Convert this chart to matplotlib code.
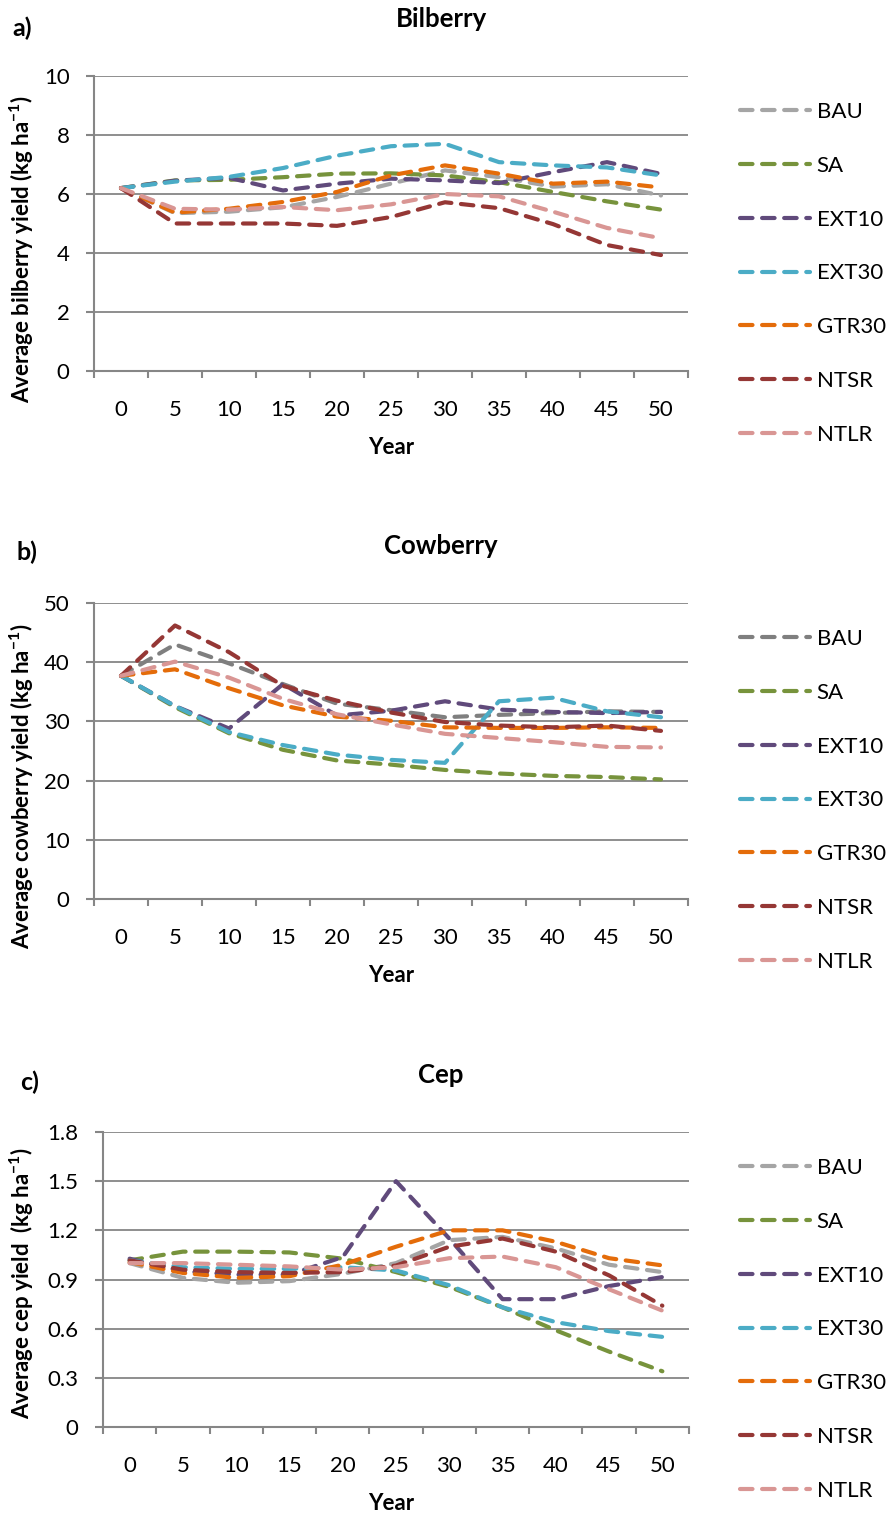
import numpy as np
import matplotlib
matplotlib.use('Agg')
import matplotlib.pyplot as plt
from matplotlib.ticker import FuncFormatter

plt.rcParams['font.family'] = 'Lato'
plt.rcParams['mathtext.fontset'] = 'custom'
plt.rcParams['mathtext.rm'] = 'Lato'
plt.rcParams['mathtext.bf'] = 'Lato:bold'

years = [0, 5, 10, 15, 20, 25, 30, 35, 40, 45, 50]
scenarios = ['BAU', 'SA', 'EXT10', 'EXT30', 'GTR30', 'NTSR', 'NTLR']

# a) bilberry, kg/ha
bil_bau = [6.2, 5.35, 5.4, 5.55, 5.9, 6.35, 6.8, 6.57, 6.25, 6.33, 5.95]
bil_sa = [6.2, 6.46, 6.48, 6.57, 6.69, 6.7, 6.63, 6.4, 6.07, 5.75, 5.47]
bil_ext10 = [6.2, 6.45, 6.55, 6.12, 6.35, 6.52, 6.46, 6.37, 6.74, 7.08, 6.68]
bil_ext30 = [6.2, 6.42, 6.58, 6.88, 7.3, 7.62, 7.7, 7.08, 6.97, 6.9, 6.63]
bil_gtr30 = [6.2, 5.37, 5.5, 5.73, 6.07, 6.63, 6.97, 6.69, 6.35, 6.42, 6.22]
bil_ntsr = [6.2, 5.0, 5.0, 5.0, 4.92, 5.22, 5.72, 5.52, 4.98, 4.27, 3.93]
bil_ntlr = [6.2, 5.5, 5.47, 5.56, 5.45, 5.65, 6.0, 5.92, 5.4, 4.85, 4.5]

# b) cowberry
cow_bau = [37.7, 43.0, 39.8, 36.3, 33.0, 31.9, 30.7, 31.1, 31.4, 31.7, 31.6]
cow_sa = [37.7, 32.4, 28.0, 25.2, 23.4, 22.7, 21.8, 21.2, 20.8, 20.6, 20.2]
cow_ext10 = [37.7, 32.6, 28.8, 36.3, 31.0, 31.8, 33.4, 32.0, 31.6, 31.4, 31.6]
cow_ext30 = [37.7, 32.6, 28.2, 26.0, 24.4, 23.5, 23.0, 33.4, 34.0, 31.7, 30.7]
cow_gtr30 = [37.7, 38.8, 35.6, 32.7, 30.8, 30.1, 29.0, 28.9, 28.9, 29.0, 28.9]
cow_ntsr = [37.7, 46.2, 41.7, 36.0, 33.5, 31.5, 29.9, 29.3, 29.0, 29.3, 28.4]
cow_ntlr = [37.7, 40.1, 37.4, 33.8, 31.2, 29.5, 27.9, 27.2, 26.5, 25.7, 25.6]

# c) cep
cep_bau = [1.0, 0.91, 0.88, 0.89, 0.935, 1.0, 1.14, 1.16, 1.09, 0.99, 0.945]
cep_sa = [1.017, 1.07, 1.07, 1.065, 1.027, 0.945, 0.855, 0.73, 0.59, 0.46, 0.34]
cep_ext10 = [1.027, 0.95, 0.93, 0.93, 1.037, 1.5, 1.15, 0.78, 0.78, 0.86, 0.915]
cep_ext30 = [1.017, 0.975, 0.965, 0.965, 0.975, 0.955, 0.865, 0.73, 0.64, 0.585, 0.55]
cep_gtr30 = [1.006, 0.94, 0.91, 0.92, 0.99, 1.1, 1.2, 1.2, 1.13, 1.03, 0.986]
cep_ntsr = [1.017, 0.96, 0.945, 0.94, 0.945, 0.985, 1.1, 1.15, 1.07, 0.925, 0.74]
cep_ntlr = [1.0, 1.0, 0.99, 0.98, 0.96, 0.975, 1.03, 1.04, 0.975, 0.84, 0.71]

colors = ['#A5A5A5', '#77933C', '#604A7B', '#4BACC6', '#E46C0A', '#953735', '#D99694']
colors_b = ['#7F7F7F'] + colors[1:]
axcol = '#868686'

W, H = 886, 1517
fig = plt.figure(figsize=(W / 100, H / 100), dpi=100)


def panel(box, series, cols, ymax, ystep, letter, title, ylabel, ylab_y):
    left, top, right, bottom = box
    ax = fig.add_axes([left / W, 1 - bottom / H, (right - left) / W, (bottom - top) / H])
    x = np.arange(len(years))
    for vals, name, c in zip(series, scenarios, cols):
        ax.plot(x, vals, color=c, lw=3.0, linestyle=(0, (3.0, 2.3)),
                dash_capstyle='round', solid_capstyle='round', label=name)
    ax.set_xlim(-0.5, len(years) - 0.5)
    ax.set_ylim(0, ymax)
    ax.set_xticks(np.arange(-0.5, len(years), 1))
    ax.set_xticklabels([])
    ax.set_xticks(x, minor=True)
    ax.set_xticklabels([str(y) for y in years], minor=True)
    ax.set_yticks(np.arange(0, ymax + ystep / 2, ystep))
    ax.yaxis.set_major_formatter(FuncFormatter(lambda v, _: f'{round(v, 2):g}'))
    ax.tick_params(axis='x', which='major', length=5, width=1.5, color=axcol)
    ax.tick_params(axis='x', which='minor', length=0, pad=21, labelsize=16)
    ax.tick_params(axis='y', length=5.5, width=1.5, color=axcol, pad=12, labelsize=16)
    ax.yaxis.grid(True, color=axcol, lw=1.3)
    ax.set_axisbelow(True)
    for s in ['top', 'right']:
        ax.spines[s].set_visible(False)
    for s in ['left', 'bottom']:
        ax.spines[s].set_color(axcol)
        ax.spines[s].set_linewidth(1.5)
    ax.legend(loc='upper left', bbox_to_anchor=(740 / W, 1 - (top + 26) / H),
              bbox_transform=fig.transFigure, frameon=False, fontsize=16,
              handlelength=3.15, handletextpad=0.3, labelspacing=1.52,
              borderpad=0, borderaxespad=0)
    fig.text(letter[0] / W, 1 - letter[1] / H, letter[2], ha='left', va='center',
             fontsize=18, fontweight='bold')
    fig.text(441 / W, 1 - (top - 57) / H, title, ha='center', va='center',
             fontsize=18.5, fontweight='bold')
    fig.text(22 / W, 1 - ylab_y / H, ylabel, rotation=90, ha='center', va='center',
             fontsize=16, fontweight='bold')
    fig.text(391 / W, 1 - (bottom + 76) / H, 'Year', ha='center', va='center',
             fontsize=16, fontweight='bold')
    return ax


panel((94, 76, 688, 371),
      [bil_bau, bil_sa, bil_ext10, bil_ext30, bil_gtr30, bil_ntsr, bil_ntlr],
      colors, 10, 2, (12, 28, 'a)'), 'Bilberry',
      r'Average bilberry yield (kg ha$\mathbf{^{-1}}$)', 249)
panel((94, 603, 688, 899),
      [cow_bau, cow_sa, cow_ext10, cow_ext30, cow_gtr30, cow_ntsr, cow_ntlr],
      colors_b, 50, 10, (17, 552, 'b)'), 'Cowberry',
      r'Average cowberry yield (kg ha$\mathbf{^{-1}}$)', 786)
panel((103, 1132, 689, 1427),
      [cep_bau, cep_sa, cep_ext10, cep_ext30, cep_gtr30, cep_ntsr, cep_ntlr],
      colors, 1.8, 0.3, (20, 1082, 'c)'), 'Cep',
      r'Average cep yield  (kg ha$\mathbf{^{-1}}$)', 1283)

fig.savefig('out.png', dpi=100)
